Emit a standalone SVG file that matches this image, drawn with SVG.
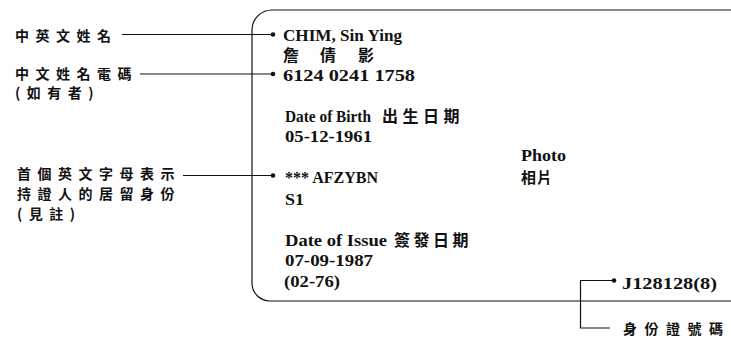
<svg xmlns="http://www.w3.org/2000/svg" width="731" height="338" viewBox="0 0 731 338">
<style>
.lbl{font-family:"Noto Sans CJK TC","Noto Sans CJK SC",sans-serif;font-weight:bold;font-size:14px;letter-spacing:6.5px;fill:#111}
.en{font-family:"Liberation Serif","Noto Sans CJK TC",serif;font-weight:bold;font-size:16px;fill:#111}
.cj{font-family:"Noto Sans CJK TC","Noto Sans CJK SC",sans-serif;font-weight:bold;font-size:16px;fill:#111}
.ln{fill:none;stroke:#111;stroke-width:1.2}
.dot{fill:#111}
</style>
<rect width="731" height="338" fill="#fff"/>
<g id="card">
<path class="ln" d="M 740 10 H 272 A 20 20 0 0 0 252 30 V 283 A 18 18 0 0 0 270 301 H 740" stroke-width="1.6"/>
<text class="en" x="283" y="41" textLength="119" lengthAdjust="spacingAndGlyphs">CHIM, Sin Ying</text>
<text class="cj" y="61"><tspan x="283">詹</tspan><tspan x="320">倩</tspan><tspan x="358">影</tspan></text>
<text class="en" x="283" y="81" textLength="132" lengthAdjust="spacingAndGlyphs">6124 0241 1758</text>
<text class="en" x="285" y="122" textLength="86" lengthAdjust="spacingAndGlyphs">Date of Birth</text>
<text class="cj" x="382" y="122" style="letter-spacing:4.5px">出生日期</text>
<text class="en" x="285" y="142" textLength="87" lengthAdjust="spacingAndGlyphs">05-12-1961</text>
<text class="en" x="521" y="161" textLength="45" lengthAdjust="spacingAndGlyphs">Photo</text>
<text class="cj" x="521" y="183" style="letter-spacing:1px;font-size:15px">相片</text>
<text class="en" x="285" y="183" textLength="93" lengthAdjust="spacingAndGlyphs">*** AFZYBN</text>
<text class="en" x="285" y="205" textLength="19" lengthAdjust="spacingAndGlyphs">S1</text>
<text class="en" x="285" y="246" textLength="102" lengthAdjust="spacingAndGlyphs">Date of Issue</text>
<text class="cj" x="394" y="246" style="letter-spacing:3.5px">簽發日期</text>
<text class="en" x="285" y="266" textLength="88" lengthAdjust="spacingAndGlyphs">07-09-1987</text>
<text class="en" x="284" y="287" textLength="56" lengthAdjust="spacingAndGlyphs">(02-76)</text>
<text class="en" x="622" y="289" textLength="95" lengthAdjust="spacingAndGlyphs">J128128(8)</text>
</g>
<g id="label-name"><text class="lbl" x="15" y="41">中英文姓名</text></g>
<g id="label-code"><text class="lbl" x="15" y="79">中文姓名電碼</text><text class="lbl" x="15" y="98">(如有者)</text></g>
<g id="label-status"><text class="lbl" x="17" y="179">首個英文字母表示</text><text class="lbl" x="17" y="199">持證人的居留身份</text><text class="lbl" x="17" y="219">(見註)</text></g>
<g id="label-id"><text class="lbl" x="623" y="334" style="letter-spacing:7.5px">身份證號碼</text></g>
<g id="connectors">
<path class="ln" d="M 122 34.5 H 273"/><circle class="dot" cx="273" cy="34.5" r="2.3"/>
<path class="ln" d="M 140 74 H 273"/><circle class="dot" cx="273" cy="74" r="2.3"/>
<path class="ln" d="M 183 175.5 H 273"/><circle class="dot" cx="273" cy="175.5" r="2.3"/>
<path class="ln" d="M 614 280.5 H 580.5 V 328 H 610"/><circle class="dot" cx="614" cy="280.5" r="2.3"/>
</g>
</svg>
